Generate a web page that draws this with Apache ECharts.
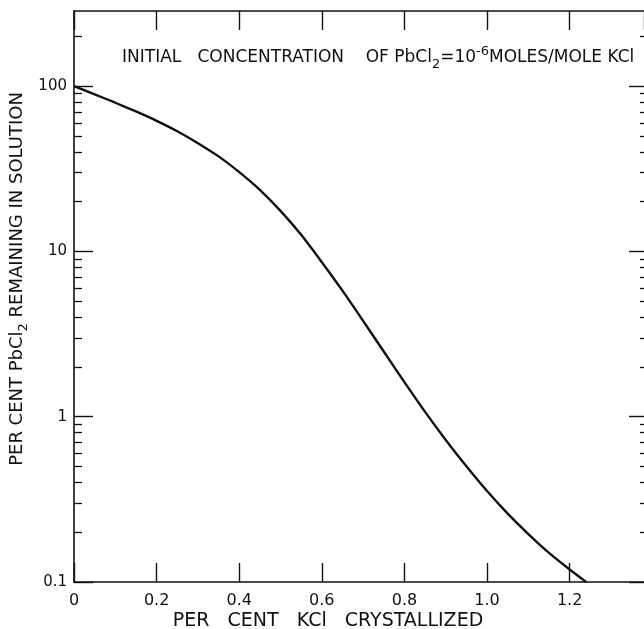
<!DOCTYPE html>
<html>
<head>
<meta charset="utf-8">
<script src="https://cdn.jsdelivr.net/npm/echarts@6/dist/echarts.min.js"></script>
<style>html,body{margin:0;padding:0;background:#fff;}#c{width:644px;height:629px;}</style>
</head>
<body>
<div id="c"></div>
<script>
// ---- data ----
const kclCrystallized = [0, 0.05, 0.1, 0.15, 0.2, 0.25, 0.3, 0.35, 0.4, 0.45, 0.5, 0.55, 0.6, 0.65, 0.7, 0.75, 0.8, 0.85, 0.9, 0.95, 1.0, 1.05, 1.1, 1.15, 1.2, 1.24];
const pbcl2Remaining  = [100, 89.3, 79.4, 70.3, 61.7, 53.4, 45.2, 37.6, 30.2, 23.6, 17.6, 12.6, 8.61, 5.79, 3.80, 2.48, 1.62, 1.07, 0.724, 0.501, 0.355, 0.259, 0.195, 0.150, 0.119, 0.1];
const xTickLabels = ['0', '0.2', '0.4', '0.6', '0.8', '1.0', '1.2'];
const yMajorValues = [0.1, 1, 10, 100];
const yMajorLabels = ['0.1', '1', '10', '100'];
const yMinorValues = [0.2,0.3,0.4,0.5,0.6,0.7,0.8,0.9, 2,3,4,5,6,7,8,9, 20,30,40,50,60,70,80,90, 200];
const titleText = 'INITIAL   CONCENTRATION    OF PbCl';
const xTitle = 'PER   CENT   KCl   CRYSTALLIZED';

const FONT = 'DejaVu Sans';
const INK = '#111';
const chart = echarts.init(document.getElementById('c'), null, {renderer: 'canvas'});

const xBase = {
  type: 'value', min: 0, max: 1.38, interval: 0.2,
  splitLine: {show: false},
  axisLine: {show: true, lineStyle: {color: INK, width: 1.6}}
};
const yBase = {
  type: 'log', logBase: 10, min: 0.1, max: 285,
  splitLine: {show: false}, minorTick: {show: false}
};

const option = {
  backgroundColor: '#fff',
  animation: false,
  grid: {left: 74, right: 0, top: 11, bottom: 47, containLabel: false},
  title: {
    left: 122, top: 45, padding: 0,
    text: '{b|' + titleText + '}{sub|2}{b|=10}{sup|-6}{b|MOLES/MOLE KCl}',
    textStyle: {
      fontWeight: 'normal',
      rich: {
        b: {fontFamily: FONT, fontSize: 17, fontWeight: 'normal', color: INK, lineHeight: 26},
        sub: {fontFamily: FONT, fontSize: 13, fontWeight: 'normal', color: INK, lineHeight: 13, verticalAlign: 'bottom'},
        sup: {fontFamily: FONT, fontSize: 13, fontWeight: 'normal', color: INK, lineHeight: 13, verticalAlign: 'top'}
      }
    }
  },
  xAxis: [
    Object.assign({}, xBase, {
      position: 'bottom',
      axisTick: {show: true, inside: true, length: 19, lineStyle: {color: INK, width: 1.4}},
      axisLabel: {
        show: true, showMaxLabel: false, margin: 11, color: INK, fontFamily: FONT, fontSize: 16,
        formatter: v => { const i = Math.round(v / 0.2); return (Math.abs(v - i * 0.2) < 1e-6 && xTickLabels[i]) ? xTickLabels[i] : ''; }
      }
    }),
    Object.assign({}, xBase, {
      position: 'top',
      axisTick: {show: true, inside: true, length: 19, lineStyle: {color: INK, width: 1.4}},
      axisLabel: {show: false}
    })
  ],
  yAxis: [
    Object.assign({}, yBase, {
      position: 'left',
      axisLine: {show: true, lineStyle: {color: INK, width: 1.6}},
      axisTick: {show: true, inside: true, length: 19, customValues: yMajorValues, lineStyle: {color: INK, width: 1.4}},
      axisLabel: {
        show: true, margin: 7, color: INK, fontFamily: FONT, fontSize: 15,
        customValues: yMajorValues,
        formatter: v => { for (let i = 0; i < yMajorValues.length; i++) { if (Math.abs(Math.log10(v) - Math.log10(yMajorValues[i])) < 1e-6) return yMajorLabels[i]; } return ''; }
      }
    }),
    Object.assign({}, yBase, {
      position: 'left',
      axisLine: {show: false},
      axisTick: {show: true, inside: true, length: 8, customValues: yMinorValues, lineStyle: {color: INK, width: 1.3}},
      axisLabel: {show: false}
    }),
    Object.assign({}, yBase, {
      position: 'right',
      axisLine: {show: false},
      axisTick: {show: true, inside: true, length: 15, customValues: yMajorValues, lineStyle: {color: INK, width: 1.4}},
      axisLabel: {show: false}
    }),
    Object.assign({}, yBase, {
      position: 'right',
      axisLine: {show: false},
      axisTick: {show: true, inside: true, length: 4, customValues: yMinorValues, lineStyle: {color: INK, width: 1.3}},
      axisLabel: {show: false}
    })
  ],
  graphic: [
    {
      type: 'text', x: 17, y: 279, rotation: Math.PI / 2,
      style: {
        text: '{b|PER CENT PbCl}{sub|2}{b| REMAINING IN SOLUTION}',
        align: 'center', verticalAlign: 'middle',
        rich: {
          b: {fontFamily: FONT, fontSize: 18, fill: INK, lineHeight: 26},
          sub: {fontFamily: FONT, fontSize: 13, fill: INK, lineHeight: 13, verticalAlign: 'bottom'}
        }
      }
    },
    {
      type: 'text', x: 328, y: 621,
      style: {
        text: xTitle, fontFamily: FONT, fontSize: 19, fill: INK,
        align: 'center', verticalAlign: 'middle'
      }
    }
  ],
  series: [{
    type: 'line',
    xAxisIndex: 0, yAxisIndex: 0,
    data: kclCrystallized.map((x, i) => [x, pbcl2Remaining[i]]),
    smooth: 0.2,
    showSymbol: false,
    symbol: 'none',
    lineStyle: {color: INK, width: 2.4},
    clip: true
  }]
};
chart.setOption(option);
</script>
</body>
</html>
